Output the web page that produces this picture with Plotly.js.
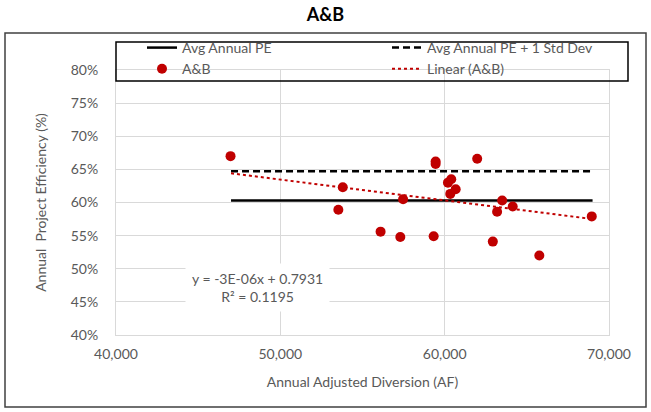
<!DOCTYPE html>
<html>
<head>
<meta charset="utf-8">
<script src="https://cdn.plot.ly/plotly-3.0.1.min.js"></script>
<style>
html,body{margin:0;padding:0;background:#fff;}
#chart{width:651px;height:412px;}
</style>
</head>
<body>
<div id="chart"></div>
<script>
// A&B annual data: adjusted diversion (AF) vs annual project efficiency
const diversionAF = [46970, 53800, 53530, 56100, 57300, 57470, 59330, 59450, 59450, 60200,
                     60400, 60340, 60670, 61980, 62930, 63190, 63500, 64140, 65760, 68950];
const efficiency  = [0.670, 0.623, 0.589, 0.556, 0.548, 0.605, 0.549, 0.662, 0.658, 0.630,
                     0.635, 0.613, 0.620, 0.666, 0.541, 0.586, 0.603, 0.594, 0.520, 0.579];

const avgRangeX = [47000, 69000];
const avgPE = [0.603, 0.603];
const avgPEplusStd = [0.647, 0.647];
const trendX = [47000, 69000];
const trendY = [0.644, 0.575];

const xTickVals = [40000, 50000, 60000, 70000];
const yTickVals = [0.40, 0.45, 0.50, 0.55, 0.60, 0.65, 0.70, 0.75, 0.80];

const FONT = "Lato, 'Open Sans', sans-serif";
const GRAY = '#595959';
const RED = '#C00000';

const traces = [
  {x: avgRangeX, y: avgPE, type: 'scatter', mode: 'lines', name: 'Avg Annual PE',
   line: {color: '#000', width: 2.5}, legend: 'legend'},
  {x: avgRangeX, y: avgPEplusStd, type: 'scatter', mode: 'lines', name: 'Avg Annual PE + 1 Std Dev',
   line: {color: '#000', width: 2.5, dash: '7px,4px'}, legend: 'legend2'},
  {x: diversionAF, y: efficiency, type: 'scatter', mode: 'markers', name: 'A&B',
   marker: {color: RED, size: 10}, legend: 'legend'},
  {x: trendX, y: trendY, type: 'scatter', mode: 'lines', name: 'Linear (A&B)',
   line: {color: RED, width: 2, dash: 'dot'}, legend: 'legend2'}
];

const PW = 493, PH = 265, ML = 116, MT = 70;
const px2x = p => (p - ML) / PW;
const py2y = p => 1 - (p - MT) / PH;

const legendBase = {
  orientation: 'v', xanchor: 'left', yanchor: 'top',
  bgcolor: 'rgba(0,0,0,0)', borderwidth: 0,
  font: {family: FONT, size: 14, color: GRAY},
  tracegroupgap: 0, itemwidth: 30
};

const layout = {
  width: 651, height: 412,
  margin: {l: ML, r: 42, t: MT, b: 77, autoexpand: false},
  paper_bgcolor: '#fff', plot_bgcolor: '#fff',
  font: {family: FONT, size: 14, color: GRAY},
  title: {text: '<b>A&B</b>', font: {family: FONT, size: 18, color: '#000'},
          x: 0.5, xanchor: 'center', y: 1 - 15/412, yanchor: 'middle', yref: 'container'},
  xaxis: {
    range: [40000, 70000], tickvals: xTickVals, tickformat: ',d',
    showgrid: true, gridcolor: '#d9d9d9', gridwidth: 1,
    showline: true, linecolor: '#d9d9d9', mirror: true, zeroline: false,
    ticks: '', ticklabelstandoff: 6,
    tickfont: {family: FONT, size: 14, color: GRAY},
    title: {text: 'Annual Adjusted Diversion (AF)', font: {family: FONT, size: 14, color: GRAY}, standoff: 16}
  },
  yaxis: {
    range: [0.40, 0.80], tickvals: yTickVals, tickformat: '.0%',
    showgrid: true, gridcolor: '#d9d9d9', gridwidth: 1,
    showline: true, linecolor: '#d9d9d9', mirror: true, zeroline: false,
    ticks: '', ticklabelstandoff: 14,
    tickfont: {family: FONT, size: 14, color: GRAY},
    title: {text: 'Annual  Project Efficiency (%)', font: {family: FONT, size: 14, color: GRAY}, standoff: 20}
  },
  showlegend: true,
  legend: Object.assign({}, legendBase, {x: px2x(142), y: py2y(32)}),
  legend2: Object.assign({}, legendBase, {x: px2x(387), y: py2y(32)}),
  shapes: [
    {type: 'rect', xref: 'paper', yref: 'paper', layer: 'above',
     x0: px2x(116), x1: px2x(628), y0: py2y(42), y1: py2y(81),
     line: {color: '#000', width: 1.5}, fillcolor: 'rgba(0,0,0,0)'},
    {type: 'rect', xref: 'paper', yref: 'paper', layer: 'below',
     x0: px2x(116), x1: px2x(628), y0: py2y(42), y1: py2y(81),
     line: {width: 0}, fillcolor: '#fff'},
    {type: 'rect', xref: 'paper', yref: 'paper', layer: 'below',
     x0: px2x(5), x1: px2x(646), y0: py2y(33), y1: py2y(407),
     line: {color: '#404040', width: 1.5}, fillcolor: 'rgba(0,0,0,0)'}
  ],
  annotations: [
    {text: 'y = -3E-06x + 0.7931<br>R² = 0.1195', xref: 'paper', yref: 'paper',
     x: px2x(257), y: py2y(287), xanchor: 'center', yanchor: 'middle',
     showarrow: false, bgcolor: '#fff', borderpad: 6, align: 'center',
     font: {family: FONT, size: 14, color: GRAY}}
  ]
};

Plotly.newPlot('chart', traces, layout, {displayModeBar: false, staticPlot: true});
</script>
</body>
</html>
